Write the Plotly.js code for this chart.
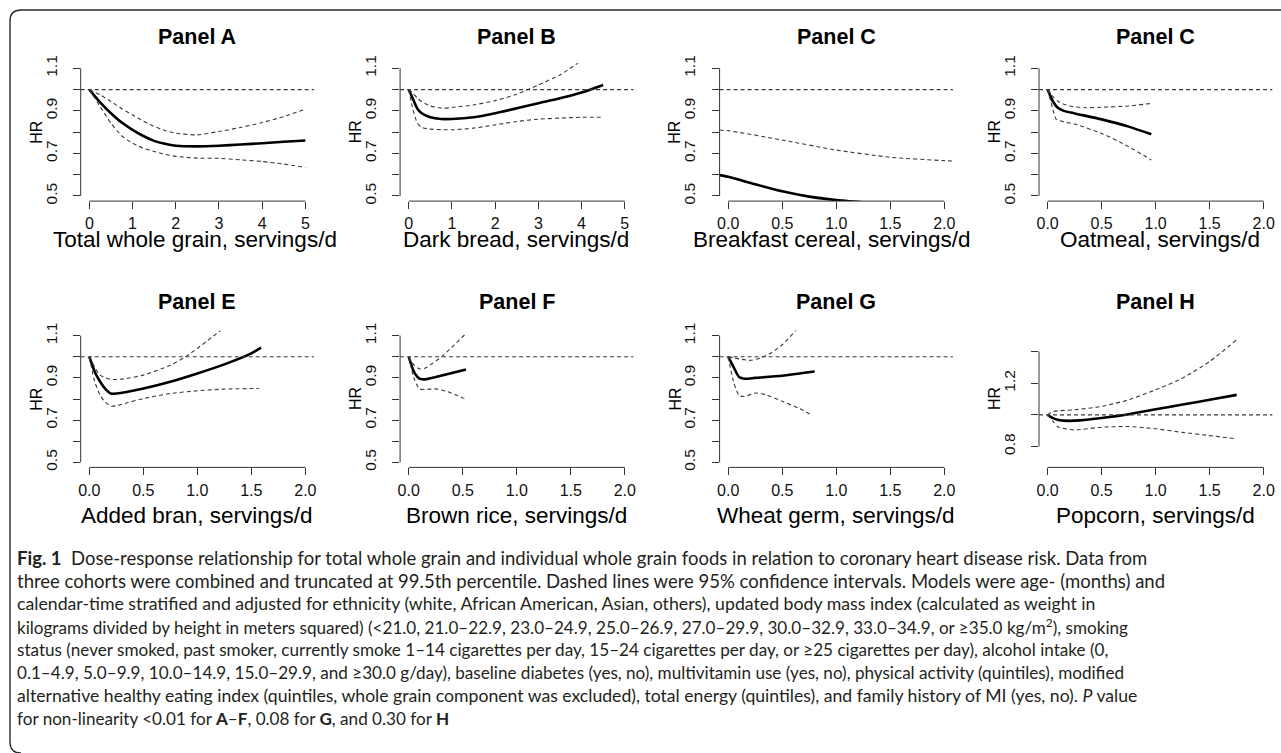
<!DOCTYPE html>
<html><head><meta charset="utf-8">
<script src="https://cdn.plot.ly/plotly-3.0.1.min.js"></script>
<style>html,body{margin:0;padding:0;background:#fff;overflow:hidden}#chart{width:1281px;height:753px}</style>
</head><body><div id="chart"></div>
<script>
// ---------------- data ----------------
const panelTitles = ["Panel A","Panel B","Panel C","Panel C","Panel E","Panel F","Panel G","Panel H"];
const xTitles = ["Total whole grain, servings/d","Dark bread, servings/d","Breakfast cereal, servings/d","Oatmeal, servings/d",
                 "Added bran, servings/d","Brown rice, servings/d","Wheat germ, servings/d","Popcorn, servings/d"];
const yTitle = "HR";

const xTicks5 = [0,1,2,3,4,5];
const xLabels5 = ["0","1","2","3","4","5"];
const xTicks2 = [0,0.5,1,1.5,2];
const xLabels2 = ["0.0","0.5","1.0","1.5","2.0"];
const yTicks = [0.5,0.6,0.7,0.8,0.9,1.0,1.1];      // all tick marks
const yLabelTicks = [0.5,0.7,0.9,1.1];              // labelled ticks
const yLabels = ["0.5","0.7","0.9","1.1"];
const yTicksH = [0.8,1.0,1.2,1.4];
const yLabelTicksH = [0.8,1.2];
const yLabelsH = ["0.8","1.2"];

// Panel A – total whole grain
const xA  = [0,0.25,0.5,0.75,1,1.25,1.5,1.75,2,2.5,3,3.5,4,4.5,5];
const hrA = [1.0,0.94,0.889,0.845,0.811,0.782,0.759,0.745,0.736,0.733,0.736,0.742,0.748,0.755,0.761];
const upA = [1.0,0.975,0.944,0.91,0.881,0.852,0.827,0.808,0.795,0.787,0.803,0.822,0.845,0.873,0.908];
const loA = [1.0,0.92,0.842,0.783,0.748,0.725,0.709,0.696,0.686,0.678,0.677,0.67,0.662,0.65,0.634];
// Panel B – dark bread
const xB  = [0,0.1,0.2,0.3,0.5,0.75,1,1.5,2,2.5,3,3.5,4,4.5];
const hrB = [1.0,0.955,0.91,0.889,0.87,0.862,0.862,0.87,0.889,0.912,0.936,0.959,0.986,1.022];
const loB = [1.0,0.905,0.842,0.822,0.814,0.812,0.811,0.819,0.834,0.85,0.861,0.866,0.87,0.87];
const xBu = [0,0.1,0.2,0.3,0.5,0.8,1,1.5,2,2.5,3,3.5,3.93];
const upB = [1.0,0.983,0.96,0.944,0.923,0.912,0.916,0.928,0.948,0.978,1.022,1.069,1.127];
// Panel C – breakfast cereal
const xC  = [-0.08,0,0.25,0.5,0.75,1,1.25];
const hrC = [0.598,0.59,0.555,0.522,0.497,0.481,0.47];
const xCu = [-0.08,0,0.5,1,1.5,2,2.08];
const upC = [0.81,0.807,0.763,0.716,0.682,0.666,0.664];
// Panel "C" (oatmeal)
const xD  = [0,0.05,0.1,0.15,0.25,0.5,0.75,0.96];
const hrD = [1.0,0.943,0.912,0.9,0.888,0.86,0.826,0.79];
const xDu = [0,0.05,0.1,0.2,0.35,0.5,0.75,0.96];
const upD = [1.0,0.967,0.943,0.923,0.915,0.917,0.923,0.935];
const xDl = [0,0.05,0.08,0.15,0.25,0.5,0.75,0.96];
const loD = [1.0,0.904,0.86,0.849,0.838,0.794,0.732,0.669];
// Panel E – added bran
const xE  = [0,0.05,0.1,0.15,0.2,0.25,0.5,0.75,1,1.25,1.5,1.59];
const hrE = [1.0,0.929,0.882,0.847,0.826,0.826,0.85,0.882,0.921,0.964,1.016,1.043];
const xEu = [0,0.1,0.2,0.3,0.5,0.75,0.89,1,1.215];
const upE = [1.0,0.913,0.893,0.894,0.913,0.96,1.0,1.04,1.124];
const xEl = [0,0.05,0.1,0.15,0.2,0.25,0.35,0.5,0.75,1,1.25,1.57];
const loE = [1.0,0.882,0.818,0.784,0.766,0.768,0.782,0.802,0.826,0.839,0.847,0.85];
// Panel F – brown rice
const xF  = [0,0.05,0.1,0.15,0.25,0.4,0.53];
const hrF = [1.0,0.927,0.896,0.893,0.904,0.923,0.94];
const xFu = [0,0.05,0.1,0.15,0.2,0.3,0.4,0.53];
const upF = [1.0,0.959,0.943,0.946,0.962,0.998,1.046,1.11];
const xFl = [0,0.05,0.1,0.15,0.25,0.35,0.45,0.53];
const loF = [1.0,0.896,0.848,0.845,0.848,0.836,0.817,0.798];
// Panel G – wheat germ
const xG  = [0,0.05,0.1,0.15,0.25,0.5,0.8];
const hrG = [1.0,0.951,0.904,0.896,0.9,0.91,0.93];
const xGu = [0,0.1,0.2,0.3,0.4,0.5,0.63];
const upG = [1.0,0.99,0.983,0.994,1.019,1.057,1.127];
const xGl = [0,0.05,0.1,0.15,0.25,0.35,0.5,0.65,0.78];
const loG = [1.0,0.88,0.817,0.812,0.828,0.82,0.789,0.757,0.722];
// Panel H – popcorn
const xH  = [0,0.05,0.1,0.2,0.3,0.5,0.75,1,1.25,1.5,1.75];
const hrH = [1.0,0.979,0.968,0.962,0.965,0.98,1.004,1.035,1.065,1.095,1.126];
const xHu = [0,0.05,0.25,0.5,0.75,1,1.25,1.5,1.75];
const upH = [1.0,1.021,1.032,1.053,1.095,1.158,1.232,1.337,1.474];
const xHl = [0,0.05,0.1,0.25,0.5,0.75,1,1.25,1.5,1.75];
const loH = [1.0,0.958,0.922,0.905,0.922,0.926,0.912,0.889,0.869,0.848];

const xLims = [[0,5],[0,5],[0,2],[0,2],[0,2],[0,2],[0,2],[0,2]];
const yLims = [[0.5,1.1],[0.5,1.1],[0.5,1.1],[0.5,1.1],[0.5,1.1],[0.5,1.1],[0.5,1.1],[0.7,1.5]];

const captionLines = [
  "<b>Fig. 1</b>&nbsp;&nbsp;Dose-response relationship for total whole grain and individual whole grain foods in relation to coronary heart disease risk. Data from",
  "three cohorts were combined and truncated at 99.5th percentile. Dashed lines were 95% confidence intervals. Models were age- (months) and",
  "calendar-time stratified and adjusted for ethnicity (white, African American, Asian, others), updated body mass index (calculated as weight in",
  "kilograms divided by height in meters squared) (&lt;21.0, 21.0–22.9, 23.0–24.9, 25.0–26.9, 27.0–29.9, 30.0–32.9, 33.0–34.9, or ≥35.0 kg/m<sup>2</sup>), smoking",
  "status (never smoked, past smoker, currently smoke 1–14 cigarettes per day, 15–24 cigarettes per day, or ≥25 cigarettes per day), alcohol intake (0,",
  "0.1–4.9, 5.0–9.9, 10.0–14.9, 15.0–29.9, and ≥30.0 g/day), baseline diabetes (yes, no), multivitamin use (yes, no), physical activity (quintiles), modified",
  "alternative healthy eating index (quintiles, whole grain component was excluded), total energy (quintiles), and family history of MI (yes, no). <i>P</i> value",
  "for non-linearity &lt;0.01 for <b>A</b>–<b>F</b>, 0.08 for <b>G</b>, and 0.30 for <b>H</b>"
];

// ---------------- assembly ----------------
const curves = [
  [[xA,hrA],[xA,upA],[xA,loA]],
  [[xB,hrB],[xBu,upB],[xB,loB]],
  [[xC,hrC],[xCu,upC]],
  [[xD,hrD],[xDu,upD],[xDl,loD]],
  [[xE,hrE],[xEu,upE],[xEl,loE]],
  [[xF,hrF],[xFu,upF],[xFl,loF]],
  [[xG,hrG],[xGu,upG],[xGl,loG]],
  [[xH,hrH],[xHu,upH],[xHl,loH]]
];

// layout / style (pixel geometry measured on the reference)
const W = 1281, H = 753;
const FONT = "Liberation Sans, Arial, Helvetica, sans-serif";
const CAPFONT = "Lato, 'Open Sans', sans-serif";
const colLeft = [80.7, 400.1, 719.6, 1039.0];
const plotW = 233.3;
const rowTop = [63.2, 330.6], rowBot = [201.1, 467.4];
const titleY = [37, 302];
const xTitleY = [240, 515];
const xTitleCx = [194.5, 515.5, 832, 1160, 196.7, 516, 836, 1155];
const capLeft = 14.5, capTop = 557.5, capStep = 23;
const capRight = [1213, 1233, 1097, 1097, 1100, 1101, 1140, 405];
const px = v => v / W, py = v => 1 - v / H;
const ext = l => { const d = (l[1]-l[0])*0.04; return [l[0]-d, l[1]+d]; };

const data = [], shapes = [], annotations = [];
const layout = {
  width: W, height: H, margin: {l:0,r:0,t:0,b:0},
  paper_bgcolor: "#fff", plot_bgcolor: "#fff", showlegend: false,
  font: {family: FONT, color: "#111"}
};

const dashStyle = {color: "#3a3a3a", width: 1.1, dash: "4px,3px"};
const axisColor = "#333";

for (let i = 0; i < 8; i++) {
  const c = i % 4, r = Math.floor(i / 4);
  const n = i === 0 ? "" : String(i + 1);
  const xid = "x" + n, yid = "y" + n;
  const big = xLims[i][1] === 5;
  const isH = i === 7;
  const xt = big ? xTicks5 : xTicks2, xl = big ? xLabels5 : xLabels2;
  const yt = isH ? yTicksH : yTicks;
  const ylt = isH ? yLabelTicksH : yLabelTicks, yl = isH ? yLabelsH : yLabels;

  layout["xaxis" + n] = {
    domain: [px(colLeft[c]), px(colLeft[c] + plotW)], anchor: yid,
    range: ext(xLims[i]), tickmode: "array", tickvals: xt, ticktext: xl,
    ticks: "outside", ticklen: 7, tickwidth: 1, tickcolor: axisColor,
    showline: false, showgrid: false, zeroline: false, fixedrange: true,
    tickfont: {size: 16, color: "#111", family: FONT}, ticklabelstandoff: 1
  };
  layout["yaxis" + n] = {
    domain: [py(rowBot[r]), py(rowTop[r])], anchor: xid,
    range: ext(yLims[i]), tickmode: "array", tickvals: ylt, ticktext: yl, tickangle: -90,
    ticks: "outside", ticklen: 7, tickwidth: 1, tickcolor: axisColor,
    minor: {tickmode: "array", tickvals: yt, ticks: "outside", ticklen: 7, tickwidth: 1, tickcolor: axisColor, showgrid: false},
    showline: false, showgrid: false, zeroline: false, fixedrange: true,
    tickfont: {size: 15.5, color: "#111", family: FONT}, ticklabelstandoff: 10
  };

  // R-style axis lines (first to last tick)
  shapes.push({type:"line", xref: xid, yref: yid + " domain", x0: xt[0], x1: xt[xt.length-1], y0: 0, y1: 0,
               line: {color: axisColor, width: 1}});
  shapes.push({type:"line", xref: xid + " domain", yref: yid, x0: 0, x1: 0, y0: yt[0], y1: yt[yt.length-1],
               line: {color: axisColor, width: 1}});
  // reference line HR = 1
  shapes.push({type:"line", xref: xid + " domain", yref: yid, x0: 0, x1: 1, y0: 1, y1: 1, line: dashStyle});

  curves[i].forEach((cv, k) => {
    data.push({
      type: "scatter", mode: "lines", x: cv[0], y: cv[1], xaxis: xid, yaxis: yid,
      line: k === 0 ? {color: "#000", width: 2.6, shape: "spline", smoothing: 0.6}
                    : Object.assign({shape: "spline", smoothing: 0.6}, dashStyle),
      hoverinfo: "skip"
    });
  });

  const cx = px(colLeft[c] + plotW / 2);
  annotations.push({text: "<b>" + panelTitles[i] + "</b>", xref: "paper", yref: "paper", x: cx, y: py(titleY[r]),
    xanchor: "center", yanchor: "middle", showarrow: false, font: {size: 21.5, color: "#000", family: FONT}});
  annotations.push({text: xTitles[i], xref: "paper", yref: "paper", x: px(xTitleCx[i]), y: py(xTitleY[r]),
    xanchor: "center", yanchor: "middle", showarrow: false, font: {size: 22.5, color: "#000", family: FONT}});
  annotations.push({text: yTitle, xref: "paper", yref: "paper", x: px(colLeft[c] - 45), y: py((rowTop[r] + rowBot[r]) / 2),
    xanchor: "center", yanchor: "middle", textangle: -90, showarrow: false, font: {size: 16, color: "#000", family: FONT}});
}

// caption: one base size (fitted on the letter-only lines), each line nudged toward its measured extent
const ctx = document.createElement("canvas").getContext("2d");
ctx.font = "100px Lato";
const plain = s => s.replace(/<[^>]+>/g, "").replace(/&nbsp;/g, " ").replace(/&lt;/g, "<");
const fits = captionLines.map((t, k) => 100 * (capRight[k] - capLeft) / ctx.measureText(plain(t)).width);
const baseFits = [fits[2], fits[4], fits[6]].sort((a, b) => a - b);
const base = Math.max(13, Math.min(19, baseFits[1]));
captionLines.forEach((t, k) => {
  const size = Math.max(base * 0.97, Math.min(base * 1.05, fits[k]));
  annotations.push({text: t, xref: "paper", yref: "paper", x: px(capLeft), y: py(capTop + capStep * k),
    xanchor: "left", yanchor: "middle", align: "left", showarrow: false,
    font: {size: size, color: "#231f20", family: CAPFONT}});
});

// rounded frame (left and top edges)
const fx = v => (v / W).toFixed(5), fy = v => (1 - v / H).toFixed(5);
shapes.push({type: "path", xref: "paper", yref: "paper", layer: "above",
  path: `M ${fx(1290)} ${fy(10)} L ${fx(21)} ${fy(10)} Q ${fx(10)} ${fy(10)} ${fx(10)} ${fy(21)} L ${fx(10)} ${fy(742)} Q ${fx(10)} ${fy(753)} ${fx(21)} ${fy(753)}`,
  line: {color: "#2b2b2b", width: 1.4}});

layout.shapes = shapes;
layout.annotations = annotations;

Plotly.newPlot("chart", data, layout, {displayModeBar: false, staticPlot: true});
</script></body></html>
